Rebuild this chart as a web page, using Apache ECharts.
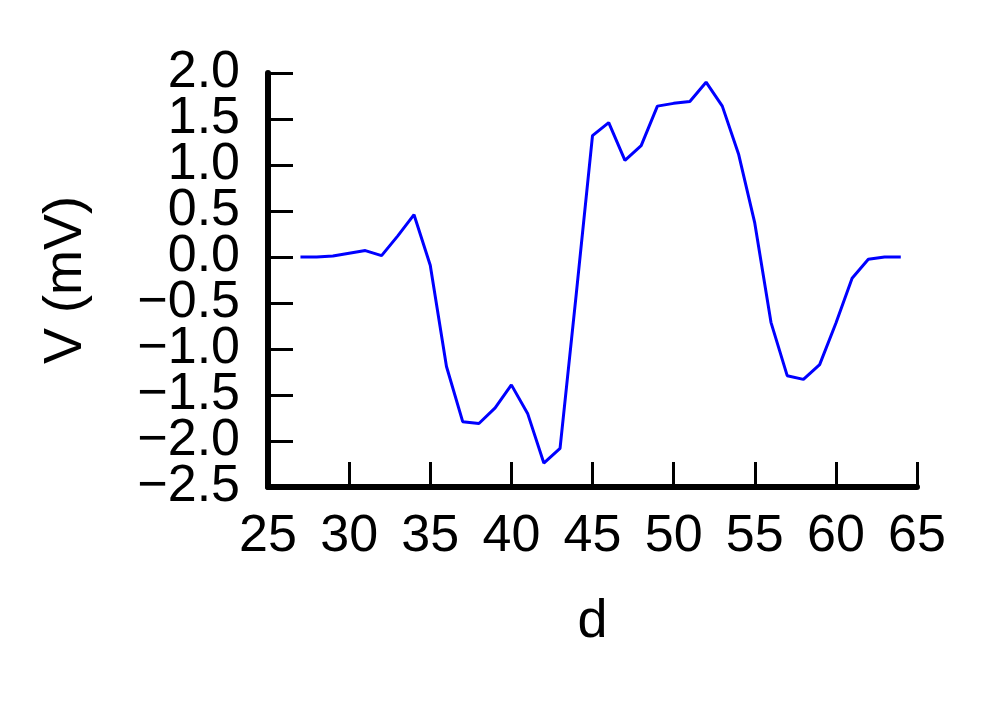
<!DOCTYPE html>
<html>
<head>
<meta charset="utf-8">
<script src="https://cdn.jsdelivr.net/npm/echarts@6/dist/echarts.min.js"></script>
<style>
  html, body { margin: 0; padding: 0; background: #fff; }
  #chart { width: 995px; height: 702px; }
</style>
</head>
<body>
<div id="chart"></div>
<script>
// d values and measured voltage
var dValues = [27, 28, 29, 30, 31, 32, 33, 34, 35, 36, 37, 38, 39, 40, 41, 42, 43, 44, 45,
  46, 47, 48, 49, 50, 51, 52, 53, 54, 55, 56, 57, 58, 59, 60, 61, 62, 63, 64]
var voltage = [0, 0, 0.01, 0.04, 0.07, 0.015, 0.23, 0.46, -0.09, -1.19, -1.79, -1.81, -1.64, -1.39,
  -1.70, -2.24, -2.08, -0.40, 1.32, 1.46, 1.05, 1.21, 1.64, 1.67, 1.69, 1.90, 1.64, 1.12, 0.37,
  -0.71, -1.29, -1.33, -1.17, -0.72, -0.23, -0.025, 0, 0]
// y tick labels, bottom to top (labels are big and touch each other, so a
// category axis carries them: value axes drop min/max labels that overlap)
var yTickLabels = ['\u22122.5', '\u22122.0', '\u22121.5', '\u22121.0', '\u22120.5',
  '0.0', '0.5', '1.0', '1.5', '2.0']

var fontFamily = 'Liberation Sans, Arial, sans-serif'

var chart = echarts.init(document.getElementById('chart'))
var option = {
  animation: false,
  backgroundColor: '#fff',
  grid: { left: 268, right: 78, top: 73, bottom: 215 },
  xAxis: {
    type: 'value',
    min: 25,
    max: 65,
    interval: 5,
    name: 'd',
    nameLocation: 'middle',
    nameGap: 108,
    nameTextStyle: { color: '#000', fontSize: 54, fontFamily: fontFamily },
    axisLine: { show: true, onZero: false, lineStyle: { color: '#000', width: 6 } },
    axisTick: { show: true, inside: true, length: 25, lineStyle: { color: '#000', width: 3 } },
    axisLabel: { color: '#000', fontSize: 52, fontFamily: fontFamily, margin: 24 },
    splitLine: { show: false }
  },
  yAxis: [
    {
      // scale for the line
      type: 'value',
      min: -2.5,
      max: 2,
      interval: 0.5,
      show: false
    },
    {
      // visible axis: line, ticks, labels, name
      type: 'category',
      data: yTickLabels,
      boundaryGap: false,
      position: 'left',
      name: 'V (mV)',
      nameLocation: 'middle',
      nameGap: 175,
      nameTextStyle: { color: '#000', fontSize: 54, fontFamily: fontFamily },
      axisLine: { show: true, onZero: false, lineStyle: { color: '#000', width: 6 } },
      axisTick: { show: true, inside: true, length: 25, interval: 0, lineStyle: { color: '#000', width: 3 } },
      axisLabel: { color: '#000', fontSize: 52, fontFamily: fontFamily, margin: 28, interval: 0 },
      splitLine: { show: false }
    }
  ],
  series: [{
    type: 'line',
    yAxisIndex: 0,
    data: dValues.map(function (d, i) { return [d, voltage[i]] }),
    showSymbol: false,
    lineStyle: { color: '#0000ff', width: 3 }
  }]
}
chart.setOption(option)
</script>
</body>
</html>
